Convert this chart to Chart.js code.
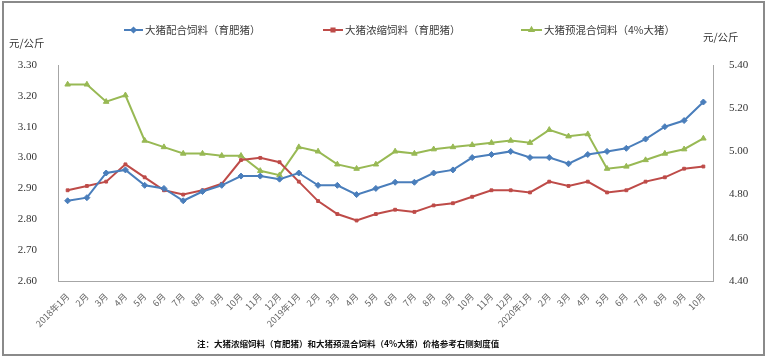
<!DOCTYPE html>
<html><head><meta charset="utf-8">
<script src="https://cdn.jsdelivr.net/npm/chart.js@4.4.1/dist/chart.umd.min.js"></script>
<style>html,body{margin:0;padding:0;background:#fff;}canvas{display:block;}</style>
</head><body>
<canvas id="c" width="769" height="359"></canvas>
<script>
const categories = ["2018年1月","2月","3月","4月","5月","6月","7月","8月","9月","10月","11月","12月",
  "2019年1月","2月","3月","4月","5月","6月","7月","8月","9月","10月","11月","12月",
  "2020年1月","2月","3月","4月","5月","6月","7月","8月","9月","10月"];
const seriesNames = ["大猪配合饲料（育肥猪）","大猪浓缩饲料（育肥猪）","大猪预混合饲料（4%大猪）"];
const peiheValues = [2.86,2.87,2.95,2.96,2.91,2.90,2.86,2.89,2.91,2.94,2.94,2.93,
  2.95,2.91,2.91,2.88,2.90,2.92,2.92,2.95,2.96,3.00,3.01,3.02,
  3.00,3.00,2.98,3.01,3.02,3.03,3.06,3.10,3.12,3.18];
const nongsuoValues = [4.82,4.84,4.86,4.94,4.88,4.82,4.80,4.82,4.85,4.96,4.97,4.95,
  4.86,4.77,4.71,4.68,4.71,4.73,4.72,4.75,4.76,4.79,4.82,4.82,
  4.81,4.86,4.84,4.86,4.81,4.82,4.86,4.88,4.92,4.93];
const yuhunValues = [5.31,5.31,5.23,5.26,5.05,5.02,4.99,4.99,4.98,4.98,4.91,4.89,
  5.02,5.00,4.94,4.92,4.94,5.00,4.99,5.01,5.02,5.03,5.04,5.05,
  5.04,5.10,5.07,5.08,4.92,4.93,4.96,4.99,5.01,5.06];
const unitLabel = "元/公斤";
const noteText = "注：大猪浓缩饲料（育肥猪）和大猪预混合饲料（4%大猪）价格参考右侧刻度值";

const colors = ["#4A7EBB","#BE4B48","#98B954"];
const styles = ["rectRot","rect","triangle"];
const radii = [3,2,3.2];

const extras = {
  id:"extras",
  afterDraw(chart){
    const ctx = chart.ctx;
    ctx.save();
    ctx.strokeStyle = "#8a8a8a"; ctx.lineWidth = 2;
    ctx.strokeRect(3,2,761,353);
    const leg = [[124,143,145],[323,343,345],[521,542,544]];
    ctx.font = "10.5px 'Noto Sans CJK SC'";
    ctx.textBaseline = "middle"; ctx.textAlign = "left";
    leg.forEach((l,i)=>{
      const y = 30;
      ctx.strokeStyle = colors[i]; ctx.lineWidth = 2;
      ctx.beginPath(); ctx.moveTo(l[0],y); ctx.lineTo(l[1],y); ctx.stroke();
      ctx.fillStyle = colors[i];
      Chart.helpers.drawPoint(ctx,{pointStyle:styles[i],radius:2.2,borderWidth:1},(l[0]+l[1])/2,y);
      ctx.fillStyle = "#3a3a3a";
      ctx.fillText(seriesNames[i], l[2], y);
    });
    ctx.fillStyle = "#333";
    ctx.font = "10.5px 'Noto Sans CJK SC'";
    ctx.fillText(unitLabel, 9, 43);
    ctx.fillText(unitLabel, 703, 37);
    ctx.font = "bold 8.5px 'Noto Sans CJK SC'";
    ctx.fillStyle = "#111";
    ctx.fillText(noteText, 197, 344);
    ctx.restore();
  }
};

function mk(i, data, axis){
  return {label:seriesNames[i], data, yAxisID:axis, borderColor:colors[i], backgroundColor:colors[i],
    borderWidth:2, pointStyle:styles[i], pointRadius:radii[i], pointBorderWidth:1,
    pointBackgroundColor:colors[i], pointBorderColor:colors[i], tension:0, fill:false};
}

new Chart(document.getElementById("c"), {
  type:"line",
  data:{labels:categories, datasets:[mk(0,peiheValues,"yL"), mk(1,nongsuoValues,"yR"), mk(2,yuhunValues,"yR")]},
  options:{
    responsive:false, animation:false, devicePixelRatio:1,
    layout:{padding:{top:65,left:0,right:0,bottom:0}},
    plugins:{legend:{display:false}, tooltip:{enabled:false}},
    scales:{
      x:{offset:true, grid:{display:false}, border:{display:true,color:"#a6a6a6",width:1},
        ticks:{minRotation:45,maxRotation:45,autoSkip:false,padding:2,color:"#666",
          font:{family:"'Noto Sans CJK SC'",size:9}},
        afterFit(s){ s.height = 78; }},
      yL:{position:"left", min:2.6, max:3.3, grid:{display:false}, border:{display:true,color:"#a6a6a6",width:1},
        ticks:{stepSize:0.1, padding:13, color:"#333", font:{family:"'Liberation Serif'",size:11},
          callback:v=>v.toFixed(2)},
        afterFit(s){ s.width = 58; }},
      yR:{position:"right", min:4.4, max:5.4, grid:{display:false}, border:{display:true,color:"#a6a6a6",width:1},
        ticks:{stepSize:0.2, padding:8, color:"#333", font:{family:"'Liberation Serif'",size:11},
          callback:v=>v.toFixed(2)},
        afterFit(s){ s.width = 56; }}
    }
  },
  plugins:[extras]
});
</script>
</body></html>
